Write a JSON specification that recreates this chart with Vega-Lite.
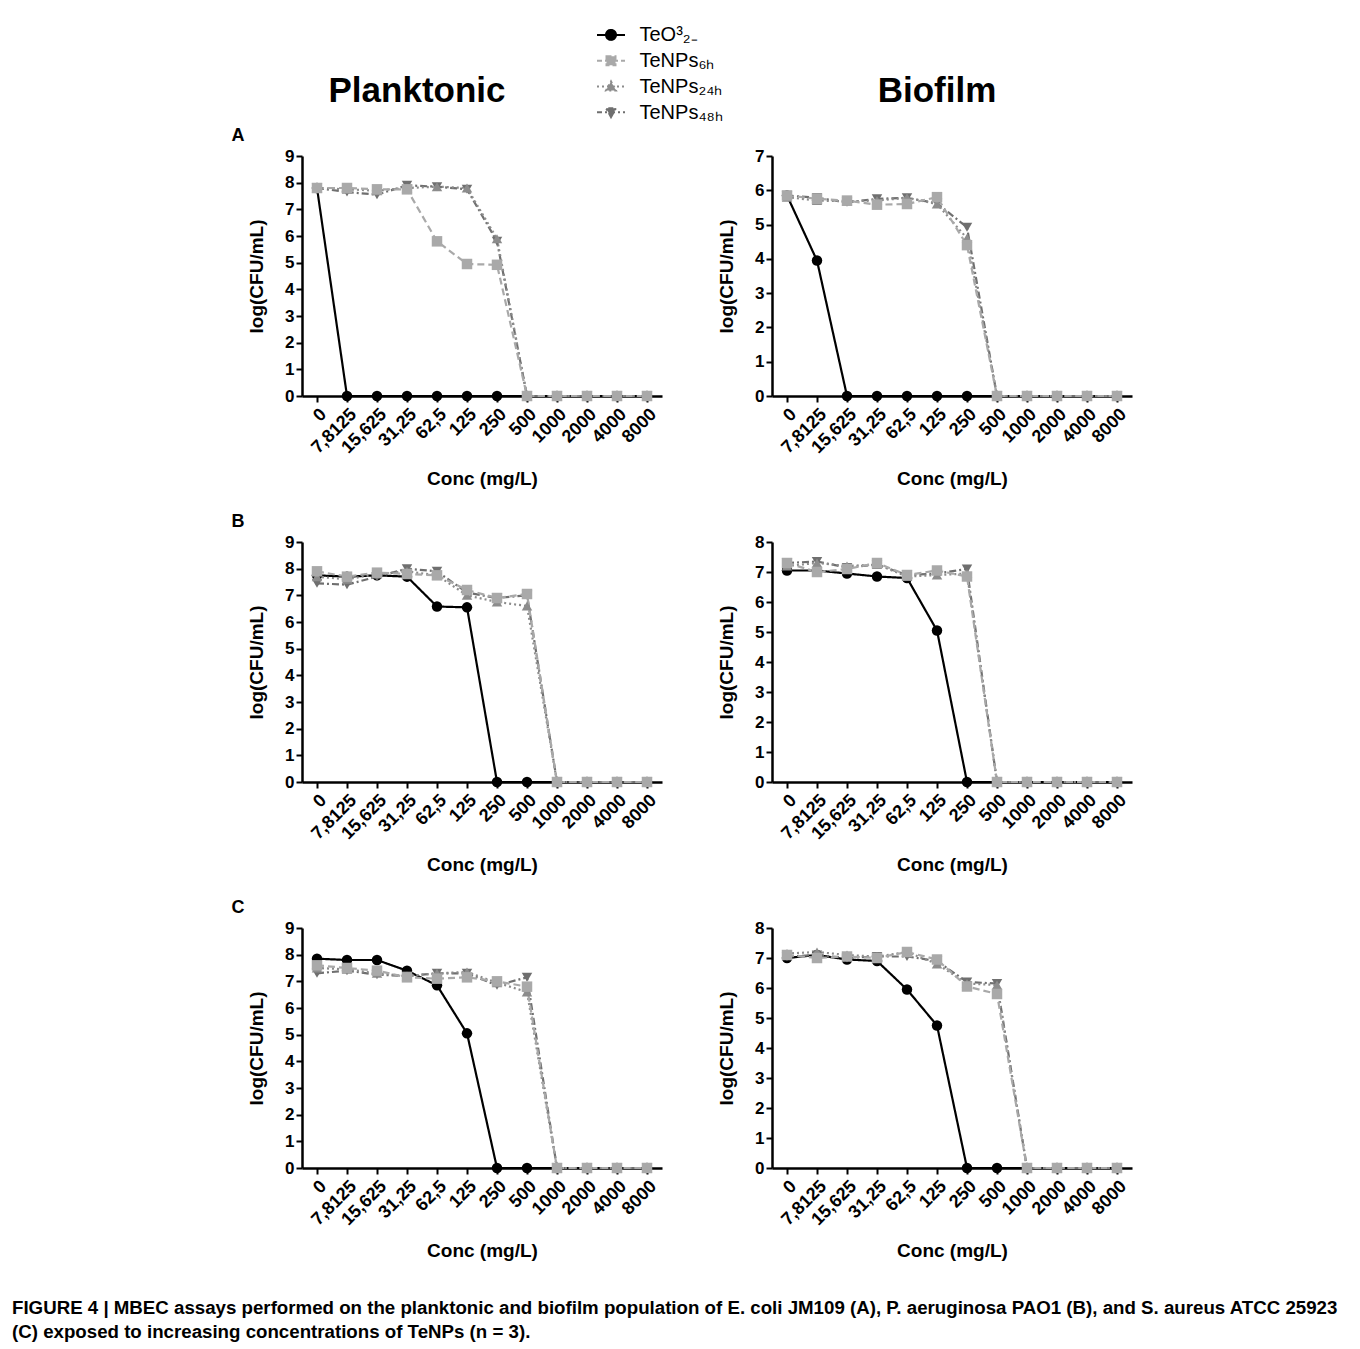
{
  "$schema": "https://vega.github.io/schema/vega-lite/v6.json",
  "padding": {"left": 12, "top": 22, "right": 5, "bottom": 5},
  "config": {
    "view": {"stroke": null},
    "font": "Liberation Sans",
    "axis": {"domainColor": "#000", "domainWidth": 2.5, "tickColor": "#000", "tickWidth": 2, "tickSize": 6, "labelColor": "#000", "labelFontWeight": "bold", "labelFontSize": 18, "titleColor": "#000", "titleFontWeight": "bold", "titleFontSize": 19, "grid": false},
    "axisX": {"labelAngle": -45, "titlePadding": 13, "labelPadding": 3},
    "axisY": {"titlePadding": 18, "labelFontSize": 17},
    "title": {"color": "#000"}
  },
  "datasets": {
    "d": [
      {"p": "A_P", "c": "0", "TeO": 7.8, "h6": 7.8, "h24": 7.8, "h48": 7.8},
      {"p": "A_P", "c": "7,8125", "TeO": 0, "h6": 7.8, "h24": 7.75, "h48": 7.65},
      {"p": "A_P", "c": "15,625", "TeO": 0, "h6": 7.75, "h24": 7.7, "h48": 7.55},
      {"p": "A_P", "c": "31,25", "TeO": 0, "h6": 7.75, "h24": 7.8, "h48": 7.9},
      {"p": "A_P", "c": "62,5", "TeO": 0, "h6": 5.8, "h24": 7.85, "h48": 7.85},
      {"p": "A_P", "c": "125", "TeO": 0, "h6": 4.95, "h24": 7.8, "h48": 7.75},
      {"p": "A_P", "c": "250", "TeO": 0, "h6": 4.92, "h24": 5.9, "h48": 5.8},
      {"p": "A_P", "c": "500", "TeO": 0, "h6": 0, "h24": 0, "h48": 0},
      {"p": "A_P", "c": "1000", "TeO": 0, "h6": 0, "h24": 0, "h48": 0},
      {"p": "A_P", "c": "2000", "TeO": 0, "h6": 0, "h24": 0, "h48": 0},
      {"p": "A_P", "c": "4000", "TeO": 0, "h6": 0, "h24": 0, "h48": 0},
      {"p": "A_P", "c": "8000", "TeO": 0, "h6": 0, "h24": 0, "h48": 0},
      {"p": "A_B", "c": "0", "TeO": 5.85, "h6": 5.85, "h24": 5.8, "h48": 5.85},
      {"p": "A_B", "c": "7,8125", "TeO": 3.95, "h6": 5.75, "h24": 5.7, "h48": 5.78},
      {"p": "A_B", "c": "15,625", "TeO": 0, "h6": 5.7, "h24": 5.68, "h48": 5.65},
      {"p": "A_B", "c": "31,25", "TeO": 0, "h6": 5.58, "h24": 5.7, "h48": 5.75},
      {"p": "A_B", "c": "62,5", "TeO": 0, "h6": 5.6, "h24": 5.78, "h48": 5.78},
      {"p": "A_B", "c": "125", "TeO": 0, "h6": 5.8, "h24": 5.6, "h48": 5.62},
      {"p": "A_B", "c": "250", "TeO": 0, "h6": 4.4, "h24": 4.6, "h48": 4.92},
      {"p": "A_B", "c": "500", "TeO": 0, "h6": 0, "h24": 0, "h48": 0},
      {"p": "A_B", "c": "1000", "TeO": 0, "h6": 0, "h24": 0, "h48": 0},
      {"p": "A_B", "c": "2000", "TeO": 0, "h6": 0, "h24": 0, "h48": 0},
      {"p": "A_B", "c": "4000", "TeO": 0, "h6": 0, "h24": 0, "h48": 0},
      {"p": "A_B", "c": "8000", "TeO": 0, "h6": 0, "h24": 0, "h48": 0},
      {"p": "B_P", "c": "0", "TeO": 7.75, "h6": 7.9, "h24": 7.7, "h48": 7.45},
      {"p": "B_P", "c": "7,8125", "TeO": 7.7, "h6": 7.7, "h24": 7.6, "h48": 7.4},
      {"p": "B_P", "c": "15,625", "TeO": 7.75, "h6": 7.85, "h24": 7.8, "h48": 7.7},
      {"p": "B_P", "c": "31,25", "TeO": 7.7, "h6": 7.8, "h24": 7.9, "h48": 8.0},
      {"p": "B_P", "c": "62,5", "TeO": 6.58, "h6": 7.75, "h24": 7.75, "h48": 7.9},
      {"p": "B_P", "c": "125", "TeO": 6.55, "h6": 7.2, "h24": 7.0, "h48": 7.1},
      {"p": "B_P", "c": "250", "TeO": 0, "h6": 6.9, "h24": 6.75, "h48": 6.9},
      {"p": "B_P", "c": "500", "TeO": 0, "h6": 7.05, "h24": 6.6, "h48": 7.0},
      {"p": "B_P", "c": "1000", "TeO": 0, "h6": 0, "h24": 0, "h48": 0},
      {"p": "B_P", "c": "2000", "TeO": 0, "h6": 0, "h24": 0, "h48": 0},
      {"p": "B_P", "c": "4000", "TeO": 0, "h6": 0, "h24": 0, "h48": 0},
      {"p": "B_P", "c": "8000", "TeO": 0, "h6": 0, "h24": 0, "h48": 0},
      {"p": "B_B", "c": "0", "TeO": 7.05, "h6": 7.3, "h24": 7.2, "h48": 7.3},
      {"p": "B_B", "c": "7,8125", "TeO": 7.05, "h6": 7.0, "h24": 7.3, "h48": 7.35},
      {"p": "B_B", "c": "15,625", "TeO": 6.95, "h6": 7.1, "h24": 7.2, "h48": 7.15},
      {"p": "B_B", "c": "31,25", "TeO": 6.85, "h6": 7.3, "h24": 7.25, "h48": 7.25},
      {"p": "B_B", "c": "62,5", "TeO": 6.8, "h6": 6.9, "h24": 6.85, "h48": 6.9},
      {"p": "B_B", "c": "125", "TeO": 5.05, "h6": 7.05, "h24": 6.9, "h48": 6.95},
      {"p": "B_B", "c": "250", "TeO": 0, "h6": 6.85, "h24": 6.95, "h48": 7.1},
      {"p": "B_B", "c": "500", "TeO": 0, "h6": 0, "h24": 0, "h48": 0},
      {"p": "B_B", "c": "1000", "TeO": 0, "h6": 0, "h24": 0, "h48": 0},
      {"p": "B_B", "c": "2000", "TeO": 0, "h6": 0, "h24": 0, "h48": 0},
      {"p": "B_B", "c": "4000", "TeO": 0, "h6": 0, "h24": 0, "h48": 0},
      {"p": "B_B", "c": "8000", "TeO": 0, "h6": 0, "h24": 0, "h48": 0},
      {"p": "C_P", "c": "0", "TeO": 7.85, "h6": 7.6, "h24": 7.5, "h48": 7.3},
      {"p": "C_P", "c": "7,8125", "TeO": 7.8, "h6": 7.5, "h24": 7.45, "h48": 7.4},
      {"p": "C_P", "c": "15,625", "TeO": 7.8, "h6": 7.4, "h24": 7.3, "h48": 7.25},
      {"p": "C_P", "c": "31,25", "TeO": 7.4, "h6": 7.15, "h24": 7.2, "h48": 7.2},
      {"p": "C_P", "c": "62,5", "TeO": 6.85, "h6": 7.1, "h24": 7.3, "h48": 7.3},
      {"p": "C_P", "c": "125", "TeO": 5.05, "h6": 7.15, "h24": 7.35, "h48": 7.3},
      {"p": "C_P", "c": "250", "TeO": 0, "h6": 7.0, "h24": 6.95, "h48": 6.85},
      {"p": "C_P", "c": "500", "TeO": 0, "h6": 6.8, "h24": 6.6, "h48": 7.15},
      {"p": "C_P", "c": "1000", "TeO": 0, "h6": 0, "h24": 0, "h48": 0},
      {"p": "C_P", "c": "2000", "TeO": 0, "h6": 0, "h24": 0, "h48": 0},
      {"p": "C_P", "c": "4000", "TeO": 0, "h6": 0, "h24": 0, "h48": 0},
      {"p": "C_P", "c": "8000", "TeO": 0, "h6": 0, "h24": 0, "h48": 0},
      {"p": "C_B", "c": "0", "TeO": 7.0, "h6": 7.1, "h24": 7.15, "h48": 7.05},
      {"p": "C_B", "c": "7,8125", "TeO": 7.1, "h6": 7.0, "h24": 7.2, "h48": 7.1},
      {"p": "C_B", "c": "15,625", "TeO": 6.95, "h6": 7.05, "h24": 7.1, "h48": 7.0},
      {"p": "C_B", "c": "31,25", "TeO": 6.9, "h6": 7.0, "h24": 7.05, "h48": 7.05},
      {"p": "C_B", "c": "62,5", "TeO": 5.95, "h6": 7.2, "h24": 7.2, "h48": 7.05},
      {"p": "C_B", "c": "125", "TeO": 4.75, "h6": 6.95, "h24": 6.8, "h48": 6.9},
      {"p": "C_B", "c": "250", "TeO": 0, "h6": 6.05, "h24": 6.15, "h48": 6.2},
      {"p": "C_B", "c": "500", "TeO": 0, "h6": 5.8, "h24": 6.1, "h48": 6.15},
      {"p": "C_B", "c": "1000", "TeO": 0, "h6": 0, "h24": 0, "h48": 0},
      {"p": "C_B", "c": "2000", "TeO": 0, "h6": 0, "h24": 0, "h48": 0},
      {"p": "C_B", "c": "4000", "TeO": 0, "h6": 0, "h24": 0, "h48": 0},
      {"p": "C_B", "c": "8000", "TeO": 0, "h6": 0, "h24": 0, "h48": 0}
    ]
  },
  "title": {
    "text": ["FIGURE 4 | MBEC assays performed on the planktonic and biofilm population of E. coli JM109 (A), P. aeruginosa PAO1 (B), and S. aureus ATCC 25923", "(C) exposed to increasing concentrations of TeNPs (n = 3)."],
    "orient": "bottom", "anchor": "start", "frame": "group", "dx": -290, "offset": 38,
    "fontSize": 18.7, "fontWeight": "bold", "font": "Liberation Sans", "lineHeight": 24, "color": "#000"
  },
  "resolve": {"scale": {"color": "independent", "shape": "independent", "strokeDash": "independent", "fill": "independent", "stroke": "independent"}},
  "spacing": 2,
  "vconcat": [
    {
      "spacing": 59,
      "hconcat": [
        {
          "width": 230, "height": 103,
          "data": {"values": [{"t": "Planktonic"}]},
          "mark": {"type": "text", "fontSize": 35, "fontWeight": "bold", "font": "Liberation Sans", "dy": 17, "color": "#000"},
          "encoding": {"text": {"field": "t"}}
        },
        {
          "width": 40, "height": 103,
          "data": {"values": [{"s": "TeO³₂₋"}, {"s": "TeNPs₆ₕ"}, {"s": "TeNPs₂₄ₕ"}, {"s": "TeNPs₄₈ₕ"}]},
          "mark": {"type": "point", "size": 100, "strokeWidth": 2, "opacity": 1},
          "encoding": {
            "y": {"field": "s", "type": "nominal", "sort": null, "axis": {"orient": "right", "domain": false, "ticks": false, "title": null, "labelFontSize": 20, "labelFontWeight": "normal", "labelPadding": 8}},
            "shape": {"field": "s", "type": "nominal", "legend": null, "scale": {"domain": ["TeO³₂₋", "TeNPs₆ₕ", "TeNPs₂₄ₕ", "TeNPs₄₈ₕ"], "range": ["M-2.8,0H2.8M1,0A1,1,0,1,1,-1,0A1,1,0,1,1,1,0Z", "M-2.8,0H2.8M-0.9,-0.9H0.9V0.9H-0.9Z", "M-2.8,0H2.8M0,-1L1,0.8H-1Z", "M-2.8,0H2.8M0,1L1,-0.8H-1Z"]}},
            "fill": {"field": "s", "type": "nominal", "legend": null, "scale": {"domain": ["TeO³₂₋", "TeNPs₆ₕ", "TeNPs₂₄ₕ", "TeNPs₄₈ₕ"], "range": ["#000000", "#a9a9a9", "#8c8c8c", "#6f6f6f"]}},
            "stroke": {"field": "s", "type": "nominal", "legend": null, "scale": {"domain": ["TeO³₂₋", "TeNPs₆ₕ", "TeNPs₂₄ₕ", "TeNPs₄₈ₕ"], "range": ["#000000", "#a9a9a9", "#8c8c8c", "#6f6f6f"]}},
            "strokeDash": {"field": "s", "type": "nominal", "legend": null, "scale": {"domain": ["TeO³₂₋", "TeNPs₆ₕ", "TeNPs₂₄ₕ", "TeNPs₄₈ₕ"], "range": [[1, 0], [5, 3], [2, 3], [5, 3, 2, 3]]}}
          }
        },
        {
          "width": 310, "height": 103,
          "data": {"values": [{"t": "Biofilm"}]},
          "mark": {"type": "text", "fontSize": 35, "fontWeight": "bold", "font": "Liberation Sans", "dy": 17, "color": "#000"},
          "encoding": {"text": {"field": "t"}}
        }
      ]
    },
    {
      "spacing": 24,
      "vconcat": [
        {
          "title": {"text": "A", "anchor": "start", "fontSize": 18, "fontWeight": "bold", "offset": 2, "dx": -16},
          "spacing": 55,
          "hconcat": [
            {
              "width": 360, "height": 240, "data": {"name": "d"},
              "transform": [{"filter": "datum.p == 'A_P'"}, {"fold": ["TeO", "h48", "h24", "h6"], "as": ["s", "v"]}],
              "encoding": {
                "x": {"field": "c", "type": "ordinal", "scale": {"type": "point", "padding": 0.5, "domain": ["0", "7,8125", "15,625", "31,25", "62,5", "125", "250", "500", "1000", "2000", "4000", "8000"]}, "axis": {"title": "Conc (mg/L)"}},
                "y": {"field": "v", "type": "quantitative", "scale": {"domain": [0, 9], "nice": false}, "axis": {"title": "log(CFU/mL)", "values": [0, 1, 2, 3, 4, 5, 6, 7, 8, 9]}},
                "color": {"field": "s", "type": "nominal", "legend": null, "scale": {"domain": ["TeO", "h6", "h24", "h48"], "range": ["#000000", "#a9a9a9", "#8c8c8c", "#6f6f6f"]}}
              },
              "layer": [
                {"mark": {"type": "line", "strokeWidth": 2.2}, "encoding": {"strokeDash": {"field": "s", "type": "nominal", "legend": null, "scale": {"domain": ["TeO", "h6", "h24", "h48"], "range": [[1, 0], [7, 4], [2, 3], [7, 3, 2, 3]]}}}},
                {"mark": {"type": "point", "filled": true, "opacity": 1, "size": 110}, "encoding": {"shape": {"field": "s", "type": "nominal", "legend": null, "scale": {"domain": ["TeO", "h6", "h24", "h48"], "range": ["circle", "square", "triangle-up", "triangle-down"]}}}}
              ]
            },
            {
              "width": 360, "height": 240, "data": {"name": "d"},
              "transform": [{"filter": "datum.p == 'A_B'"}, {"fold": ["TeO", "h48", "h24", "h6"], "as": ["s", "v"]}],
              "encoding": {
                "x": {"field": "c", "type": "ordinal", "scale": {"type": "point", "padding": 0.5, "domain": ["0", "7,8125", "15,625", "31,25", "62,5", "125", "250", "500", "1000", "2000", "4000", "8000"]}, "axis": {"title": "Conc (mg/L)"}},
                "y": {"field": "v", "type": "quantitative", "scale": {"domain": [0, 7], "nice": false}, "axis": {"title": "log(CFU/mL)", "values": [0, 1, 2, 3, 4, 5, 6, 7]}},
                "color": {"field": "s", "type": "nominal", "legend": null, "scale": {"domain": ["TeO", "h6", "h24", "h48"], "range": ["#000000", "#a9a9a9", "#8c8c8c", "#6f6f6f"]}}
              },
              "layer": [
                {"mark": {"type": "line", "strokeWidth": 2.2}, "encoding": {"strokeDash": {"field": "s", "type": "nominal", "legend": null, "scale": {"domain": ["TeO", "h6", "h24", "h48"], "range": [[1, 0], [7, 4], [2, 3], [7, 3, 2, 3]]}}}},
                {"mark": {"type": "point", "filled": true, "opacity": 1, "size": 110}, "encoding": {"shape": {"field": "s", "type": "nominal", "legend": null, "scale": {"domain": ["TeO", "h6", "h24", "h48"], "range": ["circle", "square", "triangle-up", "triangle-down"]}}}}
              ]
            }
          ]
        },
        {
          "title": {"text": "B", "anchor": "start", "fontSize": 18, "fontWeight": "bold", "offset": 2, "dx": -16},
          "spacing": 55,
          "hconcat": [
            {
              "width": 360, "height": 240, "data": {"name": "d"},
              "transform": [{"filter": "datum.p == 'B_P'"}, {"fold": ["TeO", "h48", "h24", "h6"], "as": ["s", "v"]}],
              "encoding": {
                "x": {"field": "c", "type": "ordinal", "scale": {"type": "point", "padding": 0.5, "domain": ["0", "7,8125", "15,625", "31,25", "62,5", "125", "250", "500", "1000", "2000", "4000", "8000"]}, "axis": {"title": "Conc (mg/L)"}},
                "y": {"field": "v", "type": "quantitative", "scale": {"domain": [0, 9], "nice": false}, "axis": {"title": "log(CFU/mL)", "values": [0, 1, 2, 3, 4, 5, 6, 7, 8, 9]}},
                "color": {"field": "s", "type": "nominal", "legend": null, "scale": {"domain": ["TeO", "h6", "h24", "h48"], "range": ["#000000", "#a9a9a9", "#8c8c8c", "#6f6f6f"]}}
              },
              "layer": [
                {"mark": {"type": "line", "strokeWidth": 2.2}, "encoding": {"strokeDash": {"field": "s", "type": "nominal", "legend": null, "scale": {"domain": ["TeO", "h6", "h24", "h48"], "range": [[1, 0], [7, 4], [2, 3], [7, 3, 2, 3]]}}}},
                {"mark": {"type": "point", "filled": true, "opacity": 1, "size": 110}, "encoding": {"shape": {"field": "s", "type": "nominal", "legend": null, "scale": {"domain": ["TeO", "h6", "h24", "h48"], "range": ["circle", "square", "triangle-up", "triangle-down"]}}}}
              ]
            },
            {
              "width": 360, "height": 240, "data": {"name": "d"},
              "transform": [{"filter": "datum.p == 'B_B'"}, {"fold": ["TeO", "h48", "h24", "h6"], "as": ["s", "v"]}],
              "encoding": {
                "x": {"field": "c", "type": "ordinal", "scale": {"type": "point", "padding": 0.5, "domain": ["0", "7,8125", "15,625", "31,25", "62,5", "125", "250", "500", "1000", "2000", "4000", "8000"]}, "axis": {"title": "Conc (mg/L)"}},
                "y": {"field": "v", "type": "quantitative", "scale": {"domain": [0, 8], "nice": false}, "axis": {"title": "log(CFU/mL)", "values": [0, 1, 2, 3, 4, 5, 6, 7, 8]}},
                "color": {"field": "s", "type": "nominal", "legend": null, "scale": {"domain": ["TeO", "h6", "h24", "h48"], "range": ["#000000", "#a9a9a9", "#8c8c8c", "#6f6f6f"]}}
              },
              "layer": [
                {"mark": {"type": "line", "strokeWidth": 2.2}, "encoding": {"strokeDash": {"field": "s", "type": "nominal", "legend": null, "scale": {"domain": ["TeO", "h6", "h24", "h48"], "range": [[1, 0], [7, 4], [2, 3], [7, 3, 2, 3]]}}}},
                {"mark": {"type": "point", "filled": true, "opacity": 1, "size": 110}, "encoding": {"shape": {"field": "s", "type": "nominal", "legend": null, "scale": {"domain": ["TeO", "h6", "h24", "h48"], "range": ["circle", "square", "triangle-up", "triangle-down"]}}}}
              ]
            }
          ]
        },
        {
          "title": {"text": "C", "anchor": "start", "fontSize": 18, "fontWeight": "bold", "offset": 2, "dx": -16},
          "spacing": 55,
          "hconcat": [
            {
              "width": 360, "height": 240, "data": {"name": "d"},
              "transform": [{"filter": "datum.p == 'C_P'"}, {"fold": ["TeO", "h48", "h24", "h6"], "as": ["s", "v"]}],
              "encoding": {
                "x": {"field": "c", "type": "ordinal", "scale": {"type": "point", "padding": 0.5, "domain": ["0", "7,8125", "15,625", "31,25", "62,5", "125", "250", "500", "1000", "2000", "4000", "8000"]}, "axis": {"title": "Conc (mg/L)"}},
                "y": {"field": "v", "type": "quantitative", "scale": {"domain": [0, 9], "nice": false}, "axis": {"title": "log(CFU/mL)", "values": [0, 1, 2, 3, 4, 5, 6, 7, 8, 9]}},
                "color": {"field": "s", "type": "nominal", "legend": null, "scale": {"domain": ["TeO", "h6", "h24", "h48"], "range": ["#000000", "#a9a9a9", "#8c8c8c", "#6f6f6f"]}}
              },
              "layer": [
                {"mark": {"type": "line", "strokeWidth": 2.2}, "encoding": {"strokeDash": {"field": "s", "type": "nominal", "legend": null, "scale": {"domain": ["TeO", "h6", "h24", "h48"], "range": [[1, 0], [7, 4], [2, 3], [7, 3, 2, 3]]}}}},
                {"mark": {"type": "point", "filled": true, "opacity": 1, "size": 110}, "encoding": {"shape": {"field": "s", "type": "nominal", "legend": null, "scale": {"domain": ["TeO", "h6", "h24", "h48"], "range": ["circle", "square", "triangle-up", "triangle-down"]}}}}
              ]
            },
            {
              "width": 360, "height": 240, "data": {"name": "d"},
              "transform": [{"filter": "datum.p == 'C_B'"}, {"fold": ["TeO", "h48", "h24", "h6"], "as": ["s", "v"]}],
              "encoding": {
                "x": {"field": "c", "type": "ordinal", "scale": {"type": "point", "padding": 0.5, "domain": ["0", "7,8125", "15,625", "31,25", "62,5", "125", "250", "500", "1000", "2000", "4000", "8000"]}, "axis": {"title": "Conc (mg/L)"}},
                "y": {"field": "v", "type": "quantitative", "scale": {"domain": [0, 8], "nice": false}, "axis": {"title": "log(CFU/mL)", "values": [0, 1, 2, 3, 4, 5, 6, 7, 8]}},
                "color": {"field": "s", "type": "nominal", "legend": null, "scale": {"domain": ["TeO", "h6", "h24", "h48"], "range": ["#000000", "#a9a9a9", "#8c8c8c", "#6f6f6f"]}}
              },
              "layer": [
                {"mark": {"type": "line", "strokeWidth": 2.2}, "encoding": {"strokeDash": {"field": "s", "type": "nominal", "legend": null, "scale": {"domain": ["TeO", "h6", "h24", "h48"], "range": [[1, 0], [7, 4], [2, 3], [7, 3, 2, 3]]}}}},
                {"mark": {"type": "point", "filled": true, "opacity": 1, "size": 110}, "encoding": {"shape": {"field": "s", "type": "nominal", "legend": null, "scale": {"domain": ["TeO", "h6", "h24", "h48"], "range": ["circle", "square", "triangle-up", "triangle-down"]}}}}
              ]
            }
          ]
        }
      ]
    }
  ]
}
